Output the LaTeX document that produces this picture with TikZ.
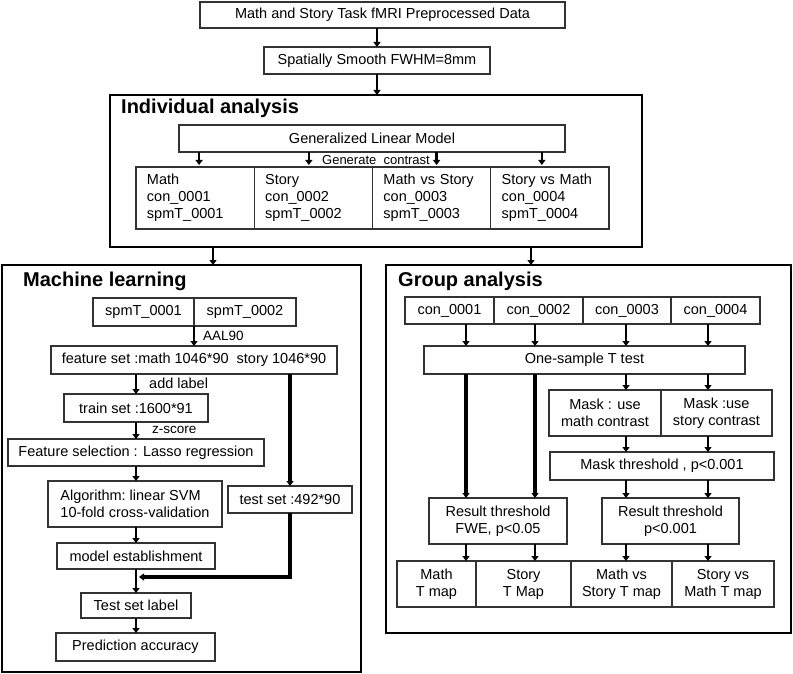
\documentclass[tikz,border=0pt]{standalone}
\usepackage{fontspec}
\setmainfont{Liberation Sans}
\usepackage{tikz}
\usetikzlibrary{arrows.meta,positioning}
\definecolor{edge}{HTML}{333333}

\begin{document}
\begin{tikzpicture}[x=1pt,y=-1pt,
  box/.style={draw=edge,line width=1.1pt,inner sep=0pt,outer sep=0pt,align=center,
    font=\fontsize{14.5}{17}\selectfont},
  cell/.style={box,align=left,inner xsep=11pt,text width=96.25pt,minimum height=62pt},
  frame/.style={draw=black,line width=2pt,inner sep=0pt,outer sep=0pt},
  title/.style={anchor=west,inner sep=0pt,font=\bfseries\fontsize{20}{24}\selectfont},
  lbl/.style={anchor=west,inner sep=0pt,font=\fontsize{13.5}{16}\selectfont},
  arr/.style={-{Triangle[width=7pt,length=5pt]},line width=2.6pt},
  bar/.style={arr,line width=3.4pt}
]
\useasboundingbox (0,0) rectangle (793,674);

\node[box,minimum width=365pt,minimum height=26pt] (raw) at (382.5,15) {Math and Story Task fMRI Preprocessed Data};
\node[box,minimum width=226pt,minimum height=27pt] (smooth) at (377,60.5) {Spatially Smooth FWHM=8mm};

% individual analysis
\node[frame,minimum width=532pt,minimum height=152pt] (indiv) at (376,171) {};
\node[title] (indivtitle) at (121,108) {Individual analysis};
\node[box,minimum width=386pt,minimum height=27pt] (glm) at (372,138.5) {Generalized Linear Model};
\node[cell] (c1) at (195.1,198) {Math\\con\_0001\\spmT\_0001};
\node[cell,right=0pt of c1] (c2) {Story\\con\_0002\\spmT\_0002};
\node[cell,right=0pt of c2] (c3) {Math vs Story\\con\_0003\\spmT\_0003};
\node[cell,right=0pt of c3] (c4) {Story vs Math\\con\_0004\\spmT\_0004};
\node[lbl,anchor=center,font=\fontsize{13}{15}\selectfont] (gen) at (376,160) {Generate\ \ contrast};

% machine learning
\node[frame,minimum width=359pt,minimum height=407pt] (ml) at (181.5,468.5) {};
\node[title] (mltitle) at (23,281) {Machine learning};
\node[box,minimum width=101pt,minimum height=28pt] (spm1) at (143.5,312) {spmT\_0001};
\node[box,minimum width=102pt,minimum height=28pt,right=0pt of spm1] (spm2) {spmT\_0002};
\node[box,minimum width=286pt,minimum height=28pt] (feat) at (194,360) {feature set :math 1046*90\ \ story 1046*90};
\node[box,minimum width=144pt,minimum height=28pt] (train) at (136,408) {train set :1600*91};
\node[box,minimum width=256pt,minimum height=27pt] (fsel) at (136,452.5) {Feature selection : Lasso regression};
\node[box,minimum width=174pt,minimum height=46pt,align=left] (algo) at (135,504) {Algorithm:\ linear SVM\\10-fold cross-validation};
\node[box,minimum width=158pt,minimum height=26pt] (model) at (136,556) {model establishment};
\node[box,minimum width=110pt,minimum height=25pt] (tlabel) at (136,605.5) {Test set label};
\node[box,minimum width=159pt,minimum height=28pt] (acc) at (135.5,647) {Prediction accuracy};
\node[box,minimum width=124pt,minimum height=27pt] (test) at (290,499.5) {test set :492*90};
\node[lbl] (aal) at (203,336) {AAL90};
\node[lbl,font=\fontsize{14.5}{17}\selectfont] (addlbl) at (149,383) {add label};
\node[lbl] (zs) at (152,430) {z-score};
\coordinate (merge) at (139,577);

% group analysis
\node[frame,minimum width=405pt,minimum height=368pt] (grp) at (588.5,449) {};
\node[title] (grptitle) at (398,281) {Group analysis};
\node[box,minimum width=89pt,minimum height=27pt] (g1) at (449.5,310.5) {con\_0001};
\node[box,minimum width=89pt,minimum height=27pt,right=0pt of g1] (g2) {con\_0002};
\node[box,minimum width=88pt,minimum height=27pt,right=0pt of g2] (g3) {con\_0003};
\node[box,minimum width=89pt,minimum height=27pt,right=0pt of g3] (g4) {con\_0004};
\node[box,minimum width=321pt,minimum height=28pt] (ost) at (584.5,360) {One-sample T test};
\node[box,minimum width=112pt,minimum height=46pt] (mask1) at (605,413) {Mask : use\\math contrast};
\node[box,minimum width=111pt,minimum height=46pt,right=0pt of mask1] (mask2) {Mask :use\\story contrast};
\node[box,minimum width=224pt,minimum height=28pt] (mthr) at (662,466) {Mask threshold , p<0.001};
\node[box,minimum width=138pt,minimum height=46pt] (fwe) at (498,521) {Result threshold\\FWE, p<0.05};
\node[box,minimum width=137pt,minimum height=46pt] (rthr) at (670.5,521) {Result threshold\\p<0.001};
\node[box,minimum width=79pt,minimum height=46pt] (map1) at (436.5,584) {Math\\T map};
\node[box,minimum width=95pt,minimum height=46pt,right=0pt of map1] (map2) {Story\\T Map};
\node[box,minimum width=101pt,minimum height=46pt,right=0pt of map2] (map3) {Math vs\\Story T map};
\node[box,minimum width=102pt,minimum height=46pt,right=0pt of map3] (map4) {Story vs\\Math T map};
\coordinate (l1) at (466,0);
\coordinate (l2) at (535,0);
\coordinate (l3) at (626,0);
\coordinate (l4) at (708,0);
\coordinate (m1) at (213,0);
\coordinate (m2) at (531,0);

\draw[arr] (raw.south -| smooth) -- (smooth.north);
\draw[arr] (smooth.south) -- (smooth.south |- indiv.north);
\draw[arr] ([xshift=4pt]c1.north |- glm.south) -- ([xshift=4pt,yshift=2pt]c1.north);
\draw[arr] ([xshift=-4.5pt]c2.north |- glm.south) -- ([xshift=-4.5pt,yshift=2pt]c2.north);
\draw[arr] ([xshift=5pt]c3.north |- glm.south) -- ([xshift=5pt,yshift=2pt]c3.north);
\draw[arr] ([xshift=-8pt]c4.north |- glm.south) -- ([xshift=-8pt,yshift=2pt]c4.north);
\draw[arr] (indiv.south -| m1) -- (ml.north -| m1);
\draw[arr] (indiv.south -| m2) -- (grp.north -| m2);

\draw[arr] (spm1.south east) -- (spm1.south east |- feat.north);
\draw[arr] (train.north |- feat.south) -- (train.north);
\draw[arr] (train.south) -- (fsel.north);
\draw[arr] (fsel.south) -- (fsel.south |- algo.north);
\draw[arr] (fsel.south |- algo.south) -- (model.north);
\draw[arr] (model.south) -- (tlabel.north);
\draw[arr] (tlabel.south) -- (tlabel.south |- acc.north);
\draw[bar] (test.north |- feat.south) -- (test.north);
\draw[bar] (test.south) |- (merge);

\foreach \l in {l1,l2,l3,l4} \draw[arr] (g1.south -| \l) -- (ost.north -| \l);
\foreach \l in {l1,l2} \draw[bar] (ost.south -| \l) -- (fwe.north -| \l);
\foreach \l in {l3,l4} {
  \draw[arr] (ost.south -| \l) -- (mask1.north -| \l);
  \draw[arr] (mask1.south -| \l) -- (mthr.north -| \l);
  \draw[arr] (mthr.south -| \l) -- (rthr.north -| \l);
}
\foreach \l in {l1,l2,l3,l4} \draw[arr] (fwe.south -| \l) -- (map1.north -| \l);
\end{tikzpicture}
\end{document}
